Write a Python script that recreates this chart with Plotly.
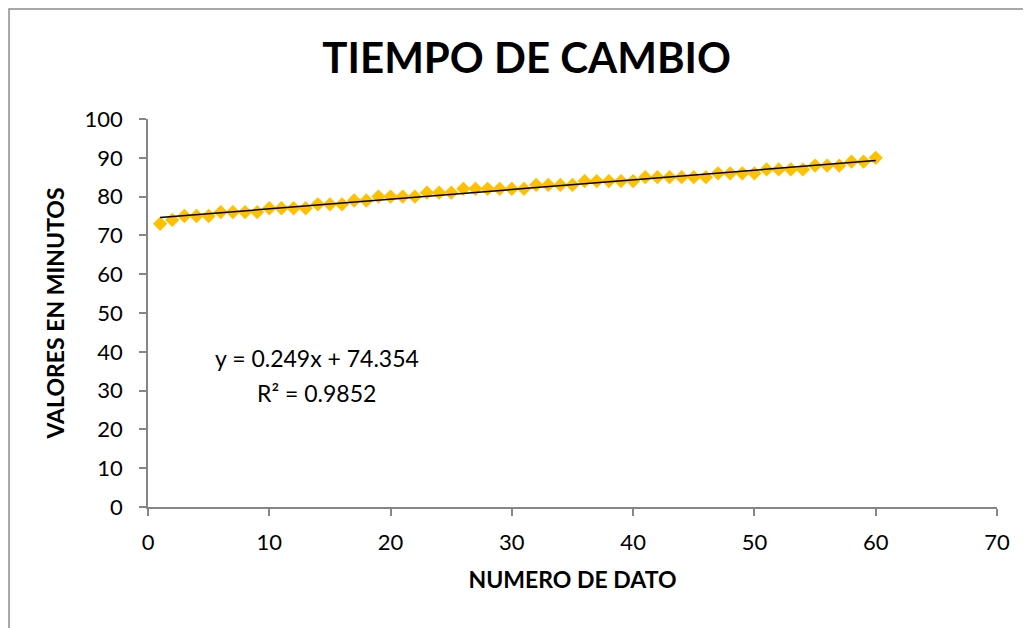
import numpy as np
import plotly.graph_objects as go

numero_dato = list(range(1, 61))
valores = [73, 74, 75, 75, 75, 76, 76, 76, 76, 77,
           77, 77, 77, 78, 78, 78, 79, 79, 80, 80,
           80, 80, 81, 81, 81, 82, 82, 82, 82, 82,
           82, 83, 83, 83, 83, 84, 84, 84, 84, 84,
           85, 85, 85, 85, 85, 85, 86, 86, 86, 86,
           87, 87, 87, 87, 88, 88, 88, 89, 89, 90]

x_ticks = [0, 10, 20, 30, 40, 50, 60, 70]
y_ticks = [0, 10, 20, 30, 40, 50, 60, 70, 80, 90, 100]

title_text = "TIEMPO DE CAMBIO"
x_title = "NUMERO DE DATO"
y_title = "VALORES EN MINUTOS"
eq_text = "y = 0.249x + 74.354"
r2_text = "R² = 0.9852"

FONT = "Lato"

xa = np.array(numero_dato, dtype=float)
ya = np.array(valores, dtype=float)
slope, intercept = np.polyfit(xa, ya, 1)
x_line = [xa.min(), xa.max()]
y_line = [slope * v + intercept for v in x_line]

fig = go.Figure()
fig.add_trace(go.Scatter(
    x=numero_dato, y=valores, mode="markers",
    marker=dict(symbol="diamond", size=11, color="#FFC000", line=dict(width=0)),
    showlegend=False, hoverinfo="x+y"))
fig.add_trace(go.Scatter(
    x=x_line, y=y_line, mode="lines",
    line=dict(color="black", width=1.5),
    showlegend=False, hoverinfo="skip"))

axis_common = dict(
    showgrid=False, zeroline=False, showline=True,
    linecolor="#868686", linewidth=1.5,
    ticks="outside", ticklen=7, tickcolor="#868686", tickwidth=1.5,
    tickfont=dict(family=FONT, size=22, color="black"),
)

fig.update_xaxes(range=[0, 70], tickvals=x_ticks, ticklabelstandoff=8, **axis_common,
                 title=dict(text=x_title, font=dict(family=FONT, size=23, color="black", weight="bold"),
                            standoff=18))
fig.update_yaxes(range=[0, 100], tickvals=y_ticks, ticklabelstandoff=12, **axis_common,
                 title=dict(text=y_title, font=dict(family=FONT, size=23, color="black", weight="bold"),
                            standoff=14))

fig.add_annotation(x=13.9, y=38.5, xref="x", yref="y", text=eq_text, showarrow=False,
                   font=dict(family=FONT, size=23, color="black"), xanchor="center", yanchor="middle")
fig.add_annotation(x=13.9, y=29.4, xref="x", yref="y", text=r2_text, showarrow=False,
                   font=dict(family=FONT, size=23, color="black"), xanchor="center", yanchor="middle")

fig.add_shape(type="rect", xref="paper", yref="paper",
              x0=-0.1637, y0=-1.0, x1=2.0, y1=1.2835,
              line=dict(color="#8c8c8c", width=1.5), fillcolor="rgba(0,0,0,0)", layer="below")

fig.update_layout(
    width=1023, height=620,
    margin=dict(l=140, r=34, t=111, b=121, autoexpand=False),
    paper_bgcolor="white", plot_bgcolor="white",
    title=dict(text=title_text, x=0.507, xanchor="center", y=0.919, yanchor="middle",
               font=dict(family=FONT, size=42, color="black", weight="bold")),
)

fig.write_html("out.html")
